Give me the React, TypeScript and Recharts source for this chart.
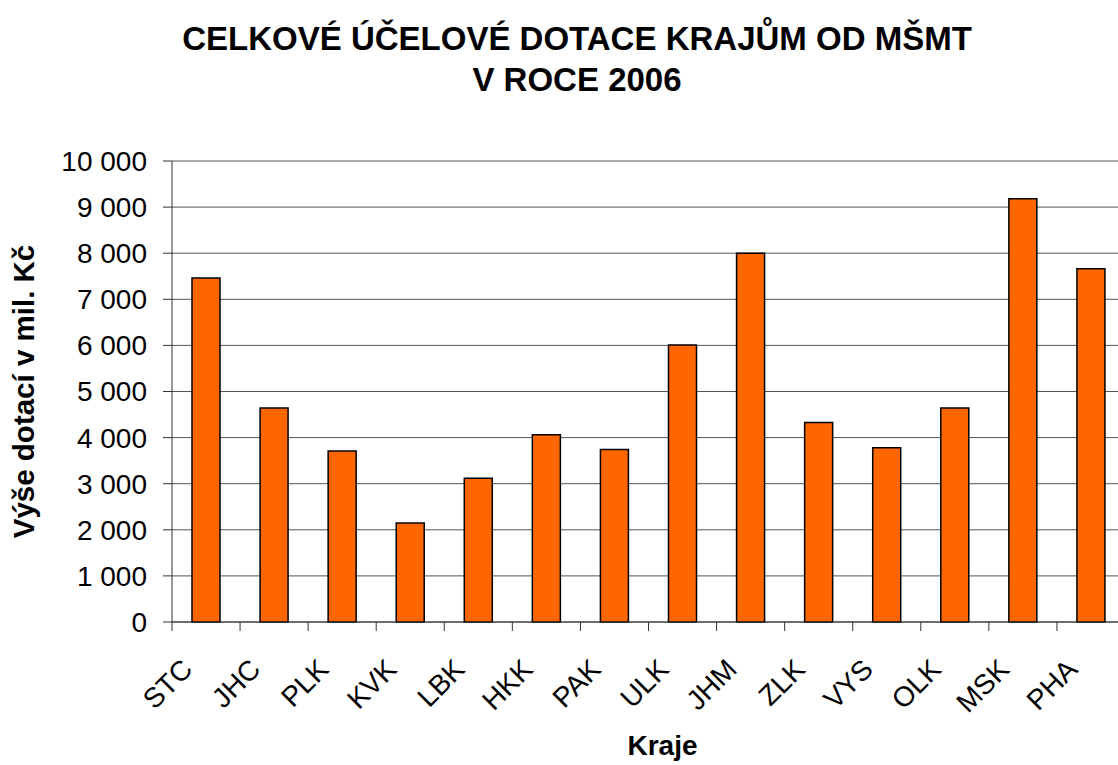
import { Bar, BarChart, CartesianGrid, Label, XAxis, YAxis } from "recharts";

const regions = ["STC", "JHC", "PLK", "KVK", "LBK", "HKK", "PAK", "ULK", "JHM", "ZLK", "VYS", "OLK", "MSK", "PHA"];
const subsidies = [7460, 4640, 3710, 2150, 3120, 4060, 3740, 6010, 8000, 4330, 3780, 4640, 9180, 7660];
const yTicks = [0, 1000, 2000, 3000, 4000, 5000, 6000, 7000, 8000, 9000, 10000];

const data = regions.map((kraj, i) => ({ kraj, value: subsidies[i] }));

const FONT = "'Liberation Sans', Arial, sans-serif";

const formatThousands = (v: number) => String(v).replace(/\B(?=(\d{3})+(?!\d))/g, " ");

// tick marks sit on category boundaries, labels slanted under the bar
function CategoryTick(props: any) {
  const { x, y, payload } = props;
  const half = payload?.offset ?? 34;
  const tx = x - 12;
  const ty = y + 49;
  return (
    <g>
      <line x1={x - half} y1={y} x2={x - half} y2={y + 9} stroke="#333" strokeWidth={1} />
      <text
        x={tx}
        y={ty}
        transform={`rotate(-45 ${tx} ${ty})`}
        textAnchor="end"
        fontSize={28}
        fontFamily={FONT}
        fill="#000"
      >
        {payload.value}
      </text>
    </g>
  );
}

export default function App() {
  return (
    <div
      style={{
        position: "absolute",
        left: 0,
        top: 0,
        width: 1118,
        height: 765,
        overflow: "hidden",
        background: "#fff",
      }}
    >
      <div
        style={{
          position: "absolute",
          left: 0,
          top: 18,
          width: 1154,
          textAlign: "center",
          fontFamily: FONT,
          fontWeight: "bold",
          fontSize: 33,
          lineHeight: "41px",
          color: "#000",
        }}
      >
        CELKOVÉ ÚČELOVÉ DOTACE KRAJŮM OD MŠMT
        <br />V ROCE 2006
      </div>
      <BarChart
        width={1140}
        height={765}
        data={data}
        margin={{ top: 161, right: 15, bottom: 0, left: 0 }}
        style={{ position: "absolute", left: 0, top: 0 }}
      >
        <CartesianGrid vertical={false} stroke="#555" strokeWidth={1} />
        <XAxis
          dataKey="kraj"
          height={143}
          tickLine={false}
          tickSize={0}
          tickMargin={0}
          axisLine={{ stroke: "#333", strokeWidth: 1 }}
          tick={<CategoryTick />}
          interval={0}
        >
          <Label
            content={({ viewBox }: any) => (
              <text
                x={viewBox.x + viewBox.width / 2 + 14}
                y={755}
                textAnchor="middle"
                fontSize={28}
                fontWeight="bold"
                fontFamily={FONT}
                fill="#000"
              >
                Kraje
              </text>
            )}
          />
        </XAxis>
        <YAxis
          width={172}
          domain={[0, 10000]}
          ticks={yTicks}
          interval={0}
          tickFormatter={formatThousands}
          tickSize={9}
          tickMargin={16}
          tickLine={{ stroke: "#333" }}
          axisLine={{ stroke: "#333", strokeWidth: 1 }}
          tick={{ fontSize: 28, fontFamily: FONT, fill: "#000" }}
        >
          <Label
            content={({ viewBox }: any) => {
              const cx = viewBox.x + 34;
              const cy = viewBox.y + viewBox.height / 2;
              return (
                <text
                  x={cx}
                  y={cy}
                  transform={`rotate(-90 ${cx} ${cy})`}
                  textAnchor="middle"
                  fontSize={29.5}
                  fontWeight="bold"
                  fontFamily={FONT}
                  fill="#000"
                >
                  Výše dotací v mil. Kč
                </text>
              );
            }}
          />
        </YAxis>
        <Bar
          dataKey="value"
          fill="#FF6600"
          stroke="#000"
          strokeWidth={1.5}
          barSize={28}
          isAnimationActive={false}
        />
      </BarChart>
    </div>
  );
}
